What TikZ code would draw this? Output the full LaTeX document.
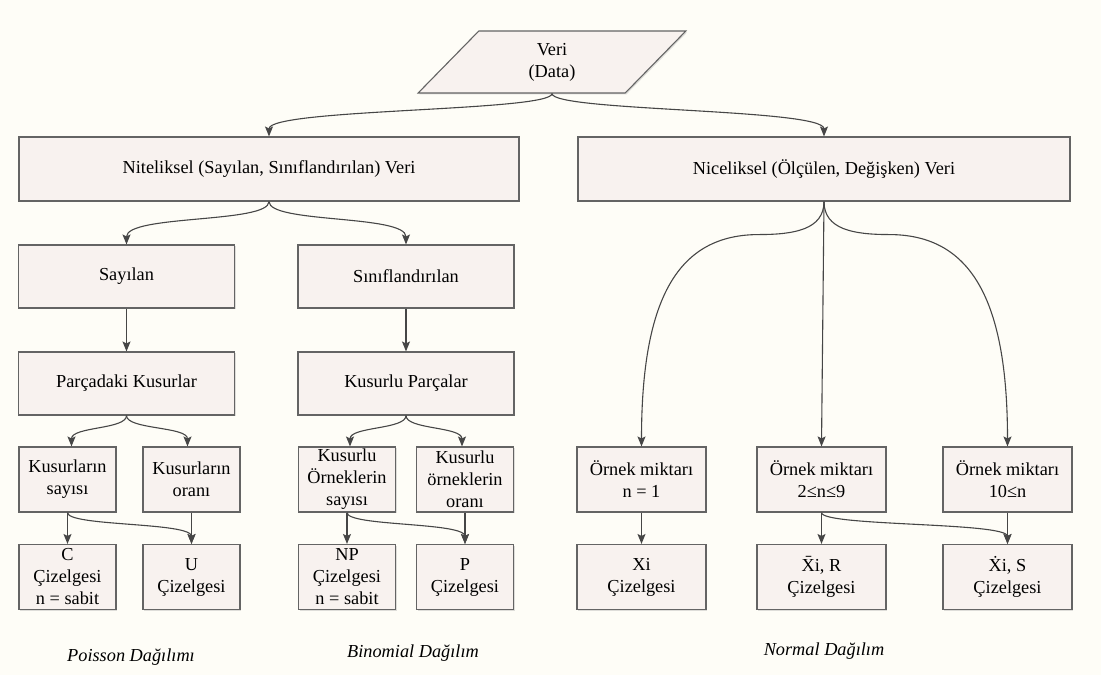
\documentclass[tikz,border=0pt]{standalone}
\usepackage{fontspec}
\setmainfont{Liberation Serif}
\usetikzlibrary{shapes.geometric}
\usetikzlibrary{arrows.meta,shadows}
\definecolor{paper}{RGB}{254,253,247}
\definecolor{boxfill}{RGB}{248,242,239}
\definecolor{boxline}{RGB}{100,100,100}
\definecolor{wire}{RGB}{70,70,70}

\begin{document}
\begin{tikzpicture}[x=1pt, y=-1pt,
                    every node/.style = {font=\fontsize{18.3}{22}\selectfont, align=center, inner sep=0pt},
                    box/.style = {draw=boxline, line width=1.1pt, fill=boxfill,
                                  drop shadow={shadow xshift=1.3pt, shadow yshift=-1.3pt, opacity=0.25}},
                    widebox/.style = {box, minimum width=216pt, minimum height=63pt},
                    midbox/.style = {box, minimum width=129pt, minimum height=65pt},
                    smallbox/.style = {box, minimum width=97pt, minimum height=65pt},
                    distname/.style = {font=\fontsize{18.3}{22}\selectfont\itshape},
                    conn/.style = {draw=wire, line width=1.1pt, -{Stealth[length=10pt, width=8pt, inset=2pt]}}]
                    \fill[paper] (0,0) rectangle (1101,675);
                    \useasboundingbox (0,0) rectangle (1101,675);
                    \node[box, shape=trapezium, trapezium left angle=63, trapezium right angle=117,
                          trapezium stretches=true, minimum width=268pt, minimum height=62pt] (veri) at (552,62) {Veri\\(Data)};
                    \node[box, minimum width=500pt, minimum height=64pt] (nit) at (269,169) {Niteliksel (Sayılan, Sınıflandırılan) Veri};
                    \node[box, minimum width=492pt, minimum height=64pt] (nic) at (824,169) {Niceliksel (Ölçülen, Değişken) Veri};
                    \node[widebox] (say) at (126.5,276.5) {Sayılan};
                    \node[widebox] (sin) at (406,276.5) {Sınıflandırılan};
                    \node[widebox] (pk) at (126.5,383.5) {Parçadaki Kusurlar};
                    \node[widebox] (kp) at (406,383.5) {Kusurlu Parçalar};
                    \node[smallbox] (ks) at (67.5,479.5) {Kusurların\\sayısı};
                    \node[smallbox] (ko) at (191.5,479.5) {Kusurların\\oranı};
                    \node[smallbox] (kos) at (347,479.5) {Kusurlu\\Örneklerin\\sayısı};
                    \node[smallbox] (koo) at (465,479.5) {Kusurlu\\örneklerin\\oranı};
                    \node[smallbox] (c) at (67.5,577) {C\\Çizelgesi\\n = sabit};
                    \node[smallbox] (u) at (191.5,577) {U\\Çizelgesi};
                    \node[smallbox] (np) at (347,577) {NP\\Çizelgesi\\n = sabit};
                    \node[smallbox] (p) at (465,577) {P\\Çizelgesi};
                    \node[midbox] (o1) at (641.5,479.5) {Örnek miktarı\\n = 1};
                    \node[midbox] (o2) at (821.5,479.5) {Örnek miktarı\\2≤n≤9};
                    \node[midbox] (o3) at (1007.5,479.5) {Örnek miktarı\\10≤n};
                    \node[midbox] (xi) at (641.5,577) {Xi\\Çizelgesi};
                    \node[midbox] (xr) at (821.5,577) {X̄i, R\\Çizelgesi};
                    \node[midbox] (xs) at (1007.5,577) {Ẋi, S\\Çizelgesi};
                    \node[distname] (poisson) at (131,657) {Poisson Dağılımı};
                    \node[distname] (binom) at (413,653) {Binomial Dağılım};
                    \node[distname] (normal) at (824,651) {Normal Dağılım};
                    \draw[conn] (veri.south) .. controls +(0,18) and +(0,-28) .. (nit.north);
                    \draw[conn] (veri.south) .. controls +(0,18) and +(0,-28) .. (nic.north);
                    \draw[conn] (nit.south) .. controls +(0,22) and +(0,-30) .. (say.north);
                    \draw[conn] (nit.south) .. controls +(0,22) and +(0,-30) .. (sin.north);
                    \draw[conn] (say) -- (pk);
                    \draw[conn] (sin) -- (kp);
                    \draw[conn] (pk.south) .. controls +(0,14) and +(0,-20) .. ([xshift=4pt]ks.north);
                    \draw[conn] (pk.south) .. controls +(0,14) and +(0,-20) .. ([xshift=-4pt]ko.north);
                    \draw[conn] (kp.south) .. controls +(0,14) and +(0,-20) .. ([xshift=3pt]kos.north);
                    \draw[conn] (kp.south) .. controls +(0,14) and +(0,-20) .. ([xshift=-3pt]koo.north);
                    \draw[conn] (ks) -- (c);
                    \draw[conn] (ks.south) .. controls +(0,14) and +(0,-22) .. (u.north);
                    \draw[conn] (ko) -- (u);
                    \draw[conn] (kos) -- (np);
                    \draw[conn] (kos.south) .. controls +(0,14) and +(0,-22) .. (p.north);
                    \draw[conn] (koo) -- (p);
                    \draw[conn] (nic.south) .. controls +(0,28) and +(35,0) .. ++(-65,33)
                                .. controls +(-80,0) and +(0,-150) .. (o1.north);
                    \draw[conn] (nic.south) -- (o2.north);
                    \draw[conn] (nic.south) .. controls +(0,28) and +(-35,0) .. ++(65,33)
                                .. controls +(80,0) and +(0,-150) .. (o3.north);
                    \draw[conn] (o1) -- (xi);
                    \draw[conn] (o2) -- (xr);
                    \draw[conn] (o2.south) .. controls +(0,14) and +(0,-22) .. (xs.north);
                    \draw[conn] (o3) -- (xs);
                \end{tikzpicture}
\end{document}
